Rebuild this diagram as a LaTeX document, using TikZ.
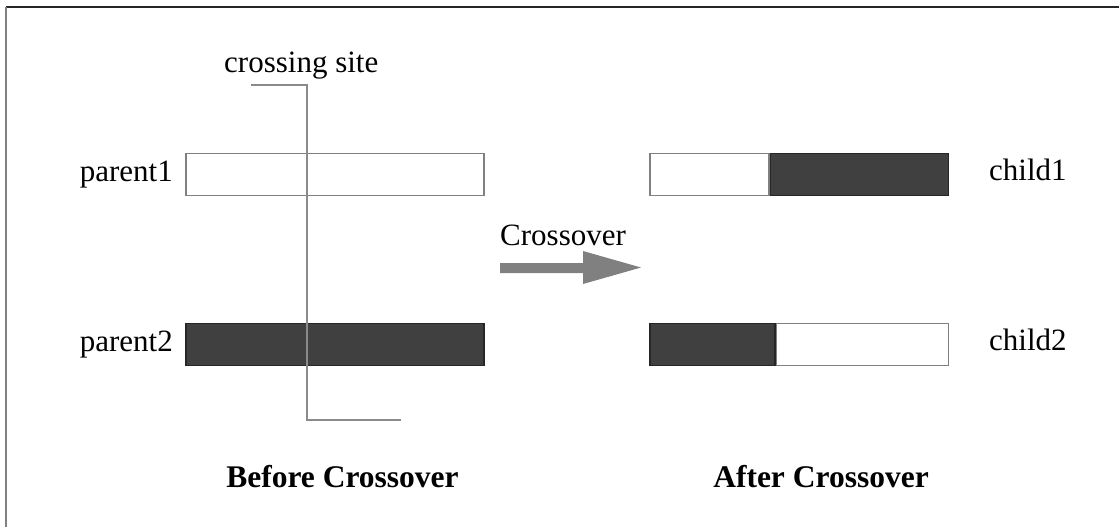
\documentclass[tikz,border=0pt]{standalone}
\usepackage{fontspec}
\setmainfont{Liberation Serif}
\usetikzlibrary{positioning}
\definecolor{dark}{HTML}{404040}
\definecolor{edge}{HTML}{808080}
\definecolor{site}{HTML}{8A8A8A}
\tikzset{
  lbl/.style={font=\fontsize{31}{36}\selectfont, inner sep=0pt},
  ttl/.style={font=\fontsize{31.5}{37}\selectfont\bfseries, inner sep=0pt},
  wbox/.style={draw=edge, fill=white, line width=1.2pt, inner sep=0pt, minimum height=42pt},
  dbox/.style={draw=black!85, fill=dark, line width=1.2pt, inner sep=0pt, minimum height=42pt},
  siteline/.style={draw=site, line width=2.2pt},
}
\begin{document}
\begin{tikzpicture}[x=1pt,y=-1pt]
\useasboundingbox (0,0) rectangle (1119,527);
% frame
\draw[black!85, line width=1.5pt] (6,7) -- (1119,7);
\draw[edge, line width=1.5pt] (6,7) -- (6,527);
% parents
\node[wbox, minimum width=298pt] (p1) at (335,174.5) {};
\node[dbox, minimum width=298pt] (p2) at (335,344.5) {};
\node[lbl, anchor=base east] (p1l) at (173,181) {parent1};
\node[lbl, anchor=base east] (p2l) at (173,351) {parent2};
% children
\node[wbox, minimum width=119pt] (c1a) at (709.5,174.5) {};
\node[dbox, minimum width=178pt, anchor=west] (c1b) at (c1a.east) {};
\node[dbox, minimum width=125pt] (c2a) at (712.5,344.5) {};
\node[wbox, minimum width=172pt, anchor=west] (c2b) at (c2a.east) {};
\node[lbl, anchor=base west] (c1l) at (989,180) {child1};
\node[lbl, anchor=base west] (c2l) at (989,350) {child2};
% crossing site
\node[lbl, anchor=base west] (cs) at (224,73) {crossing site};
\coordinate (s1) at (251,85);
\coordinate (s2) at (307,85);
\coordinate (s3) at (307,420);
\coordinate (s4) at (401,420);
\draw[siteline] (s1) -- (s2) -- (s3) -- (s4);
% arrow
\node[lbl, anchor=base west] (xo) at (500,245) {Crossover};
\fill[edge] (500,263) -- (583,263) -- (583,251) -- (641,267.5) -- (583,284) -- (583,273) -- (500,273) -- cycle;
% titles
\node[ttl, anchor=base] (bt) at (342.5,487) {Before Crossover};
\node[ttl, anchor=base] (at) at (821,487) {After Crossover};
\end{tikzpicture}
\end{document}
